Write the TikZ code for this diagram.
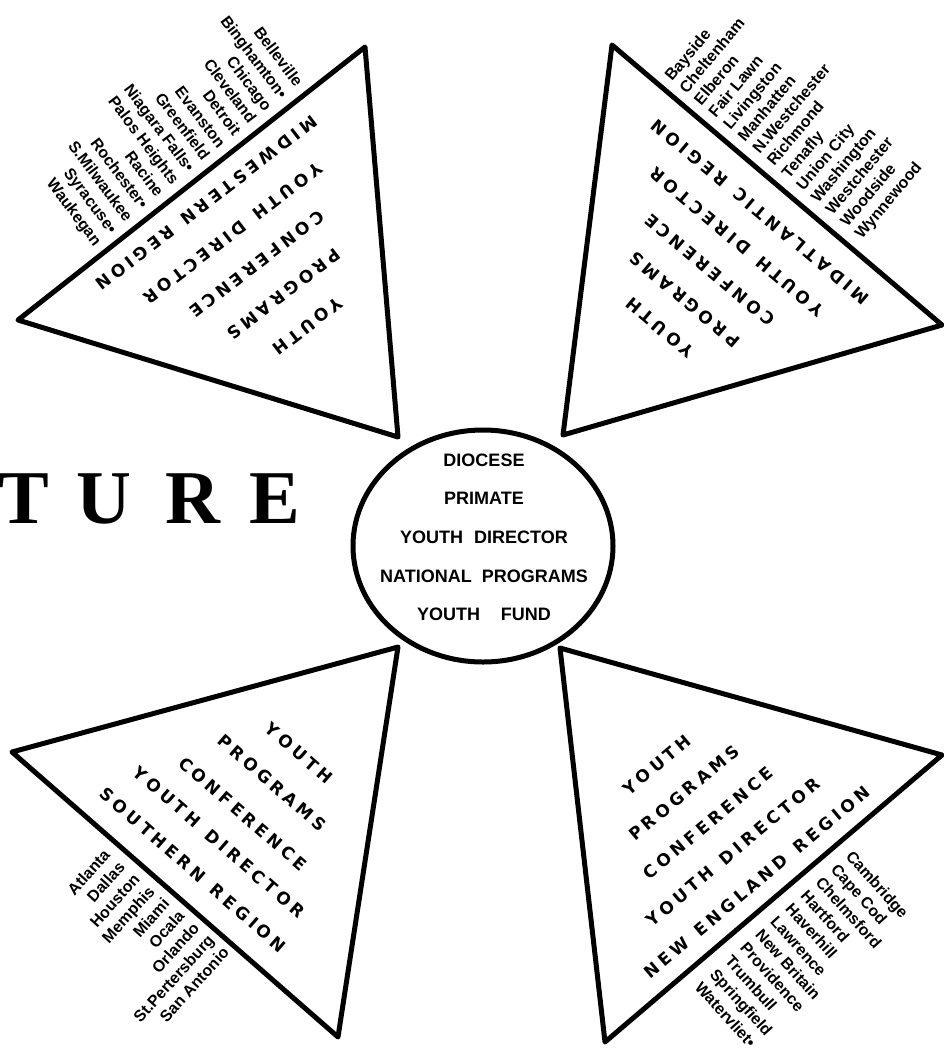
\documentclass[tikz,border=0pt]{standalone}
\usepackage{fontspec}
\setmainfont{Liberation Sans}
\newfontfamily\cityfont{Liberation Sans}
\newfontfamily\rolefont{DejaVu Sans}
\newfontfamily\turefont{Liberation Serif}
\usetikzlibrary{calc,shapes.geometric}
\makeatletter
\def\spc@bar{|}
\newcommand\spcaps[1]{\@tfor\spc@ch:=#1\do{\ifx\spc@ch\spc@bar\hspace{9pt}\else\spc@ch\kern4pt\fi}\unkern}
\makeatother
\tikzset{
  tri/.style={line width=5pt, line join=round, line cap=round},
  hub/.style={draw, ellipse, line width=5pt, minimum width=260pt, minimum height=232pt, inner sep=0pt},
  hubtext/.style={font=\bfseries\fontsize{18}{20}\selectfont, inner sep=0pt, anchor=base},
  role/.style={font=\rolefont\bfseries\fontsize{17}{20}\selectfont, inner sep=0pt},
  city/.style={font=\cityfont\bfseries\fontsize{16}{19}\selectfont, inner sep=0pt},
  bigletter/.style={font=\turefont\bfseries\fontsize{76}{90}\selectfont, inner sep=0pt, anchor=base},
}
\begin{document}
\begin{tikzpicture}[x=1pt,y=-1pt]
\useasboundingbox (0,0) rectangle (943,1050);
\fill[white] (0,0) rectangle (943,1050);

% central hub
\node[hub] (hub) at (483,546) {};
\node[hubtext] (h1) at (484,466) {DIOCESE};
\node[hubtext] (h2) at (484,504) {PRIMATE};
\node[hubtext] (h3) at (484,543) {YOUTH\hspace{6pt} DIRECTOR};
\node[hubtext] (h4) at (484,582) {NATIONAL\hspace{5pt} PROGRAMS};
\node[hubtext] (h5) at (484,620) {YOUTH\hspace{16pt} FUND};

% big title fragment
\node[bigletter] (t1) at (23.5,523) {T};
\node[bigletter] (t2) at (104,523) {U};
\node[bigletter] (t3) at (192.5,523) {R};
\node[bigletter] (t4) at (274.5,523) {E};

% triangles
\coordinate (mwA) at (365,47);
\coordinate (mwB) at (18,320);
\coordinate (mwC) at (398,437);
\draw[tri] (mwA) -- (mwB) -- (mwC) -- cycle;
\coordinate (maA) at (612,45);
\coordinate (maB) at (942,325);
\coordinate (maC) at (563,435);
\draw[tri] (maA) -- (maB) -- (maC) -- cycle;
\coordinate (soA) at (12,752);
\coordinate (soB) at (398,647);
\coordinate (soC) at (338,1037);
\draw[tri] (soA) -- (soB) -- (soC) -- cycle;
\coordinate (neA) at (560,648);
\coordinate (neB) at (942,755);
\coordinate (neC) at (605,1042);
\draw[tri] (neA) -- (neB) -- (neC) -- cycle;

% Midwestern roles
\begin{scope}[every node/.style={role, rotate=217.5}]
\node (mwr1) at (206.5,203) {\spcaps{MIDWESTERN|REGION}};
\node (mwr2) at (233,233) {\spcaps{YOUTH|DIRECTOR}};
\node (mwr3) at (257,264) {\spcaps{CONFERENCE}};
\node (mwr4) at (284,294) {\spcaps{PROGRAMS}};
\node (mwr5) at (308,326) {\spcaps{YOUTH}};
\end{scope}
% Midatlantic roles
\begin{scope}[every node/.style={role, rotate=140}]
\node (mar1) at (760,212) {\spcaps{MIDATLANTIC|REGION}};
\node (mar2) at (737,242) {\spcaps{YOUTH|DIRECTOR}};
\node (mar3) at (710,270) {\spcaps{CONFERENCE}};
\node (mar4) at (685,300) {\spcaps{PROGRAMS}};
\node (mar5) at (660,328) {\spcaps{YOUTH}};
\end{scope}
% Southern roles
\begin{scope}[every node/.style={role, rotate=-41}]
\node (sor1) at (299,753) {\spcaps{YOUTH}};
\node (sor2) at (272,783) {\spcaps{PROGRAMS}};
\node (sor3) at (243,814) {\spcaps{CONFERENCE}};
\node (sor4) at (219,842) {\spcaps{YOUTH|DIRECTOR}};
\node (sor5) at (193,870) {\spcaps{SOUTHERN|REGION}};
\end{scope}
% New England roles
\begin{scope}[every node/.style={role, rotate=40}]
\node (ner1) at (657,765) {\spcaps{YOUTH}};
\node (ner2) at (684,793) {\spcaps{PROGRAMS}};
\node (ner3) at (708,823) {\spcaps{CONFERENCE}};
\node (ner4) at (733,852) {\spcaps{YOUTH|DIRECTOR}};
\node (ner5) at (757,882) {\spcaps{NEW|ENGLAND|REGION}};
\end{scope}

% city lists
\coordinate (mwS) at (295,88);
\coordinate (mwE) at (94,247);
\foreach \name [count=\i from 0, evaluate=\i as \f using \i/13] in
  {Belleville, Binghamton\textbullet, Chicago, Cleveland, Detroit, Evanston, Greenfield,
   Niagara Falls\textbullet, Palos Heights, Racine, Rochester\textbullet, S.Milwaukee,
   Syracuse\textbullet, Waukegan}
  \node[city, rotate=-53, anchor=base east] (mwc\i) at ($(mwS)!\f!(mwE)$) {\name};

\coordinate (maS) at (672,82);
\coordinate (maE) at (862,240);
\foreach \name [count=\i from 0, evaluate=\i as \f using \i/13] in
  {Bayside, Cheltenham, Elberon, Fair Lawn, Livingston, Manhatten, N.Westchester,
   Richmond, Tenafly, Union City, Washington, Westchester, Woodside, Wynnewood}
  \node[city, rotate=50, anchor=base west] (mac\i) at ($(maS)!\f!(maE)$) {\name};

\coordinate (soS) at (111,856);
\coordinate (soE) at (230,953);
\foreach \name [count=\i from 0, evaluate=\i as \f using \i/8] in
  {Atlanta, Dallas, Houston, Memphis, Miami, Ocala, Orlando, St.Pertersburg, San Antonio}
  \node[city, rotate=48, anchor=base east] (soc\i) at ($(soS)!\f!(soE)$) {\name};

\coordinate (neS) at (845,857);
\coordinate (neE) at (694,988);
\foreach \name [count=\i from 0, evaluate=\i as \f using \i/10] in
  {Cambridge, Cape Cod, Chelmsford, Hartford, Haverhill, Lawrence, New Britain,
   Providence, Trumbull, Springfield, Watervliet\textbullet}
  \node[city, rotate=-48, anchor=base west] (nec\i) at ($(neS)!\f!(neE)$) {\name};
\end{tikzpicture}
\end{document}
